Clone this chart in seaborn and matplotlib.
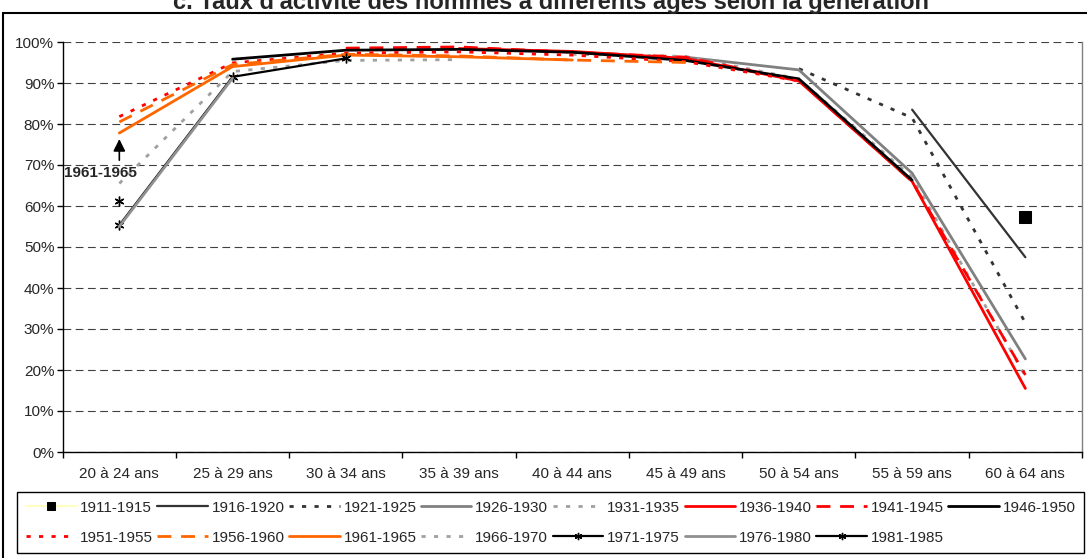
import numpy as np
import pandas as pd
import seaborn as sns
import matplotlib.pyplot as plt
from matplotlib.ticker import PercentFormatter, FixedLocator
from matplotlib.patches import Rectangle

nan = np.nan

# age groups (x axis)
ages = ['20 à 24 ans', '25 à 29 ans', '30 à 34 ans', '35 à 39 ans', '40 à 44 ans',
        '45 à 49 ans', '50 à 54 ans', '55 à 59 ans', '60 à 64 ans']

# activity rate (%) by generation, one value per age group
g1911 = [nan, nan, nan, nan, nan, nan, nan, nan, 57.2]
g1916 = [nan, nan, nan, nan, nan, nan, nan, 83.5, 47.5]
g1921 = [nan, nan, nan, nan, nan, nan, 93.5, 81.5, 31.5]
g1926 = [nan, nan, nan, nan, nan, 96.3, 93.2, 68.0, 22.7]
g1931 = [nan, nan, nan, nan, 97.0, 96.5, 91.0, 67.0, 18.5]
g1936 = [nan, nan, nan, 98.4, 97.7, 96.0, 90.5, 66.0, 15.5]
g1941 = [nan, nan, 98.5, 98.8, 97.5, 96.3, 90.6, 66.0, 18.8]
g1946 = [nan, 95.8, 98.0, 98.2, 97.5, 95.5, 91.0, 66.3, nan]
g1951 = [81.8, 94.9, 97.3, 97.6, 96.8, 95.2, 90.5, nan, nan]
g1956 = [80.5, 94.5, 97.0, 96.6, 95.6, 95.0, nan, nan, nan]
g1961 = [77.8, 94.0, 96.8, 96.4, 95.6, nan, nan, nan, nan]
g1966 = [65.5, 92.8, 95.5, 95.7, nan, nan, nan, nan, nan]
g1971 = [55.3, 91.5, 96.0, nan, nan, nan, nan, nan, nan]
g1976 = [55.0, 91.2, nan, nan, nan, nan, nan, nan, nan]
g1981 = [61.3, nan, nan, nan, nan, nan, nan, nan, nan]

generations = ['1911-1915', '1916-1920', '1921-1925', '1926-1930', '1931-1935',
               '1936-1940', '1941-1945', '1946-1950', '1951-1955', '1956-1960',
               '1961-1965', '1966-1970', '1971-1975', '1976-1980', '1981-1985']
series = [g1911, g1916, g1921, g1926, g1931, g1936, g1941, g1946,
          g1951, g1956, g1961, g1966, g1971, g1976, g1981]

rows = []
for gen, vals in zip(generations, series):
    for i, v in enumerate(vals):
        if not np.isnan(v):
            rows.append((gen, i, v))
df = pd.DataFrame(rows, columns=['generation', 'age', 'taux'])

asterisk = (6, 2, 0)
styles = {
    '1911-1915': dict(color='#FFFFC0', lw=1.5, marker='s', ms=8, mfc='black', mec='black'),
    '1916-1920': dict(color='#333333', lw=1.6),
    '1921-1925': dict(color='#333333', lw=2, ls=(0, (1.5, 3))),
    '1926-1930': dict(color='#808080', lw=2),
    '1931-1935': dict(color='#A0A0A0', lw=2, ls=(0, (1.5, 3))),
    '1936-1940': dict(color='#FF0000', lw=2),
    '1941-1945': dict(color='#FF0000', lw=2, ls=(0, (5, 3.5))),
    '1946-1950': dict(color='black', lw=2),
    '1951-1955': dict(color='#FF0000', lw=2, ls=(0, (1.5, 3))),
    '1956-1960': dict(color='#FF6600', lw=2, ls=(0, (5, 3.5))),
    '1961-1965': dict(color='#FF6600', lw=2),
    '1966-1970': dict(color='#A0A0A0', lw=2, ls=(0, (1.5, 3))),
    '1971-1975': dict(color='black', lw=1.6, marker=asterisk, ms=7, mec='black', mew=1),
    '1976-1980': dict(color='#909090', lw=2),
    '1981-1985': dict(color='black', lw=1.6, marker=asterisk, ms=7, mec='black', mew=1),
}

sns.set_theme(style='white')
plt.rcParams['font.family'] = ['Liberation Sans', 'DejaVu Sans']
fs = 11

fig = plt.figure(figsize=(10.87, 5.58), dpi=100)
W, H = 1087, 558
ax = fig.add_axes([62.7 / W, 1 - 452 / H, (1082 - 62.7) / W, (452 - 42) / H])

for gen in generations:
    sns.lineplot(data=df[df['generation'] == gen], x='age', y='taux', ax=ax,
                 label=gen, legend=False, **styles[gen])

if ax.get_legend() is not None:
    ax.get_legend().remove()

# axes
ax.set_xlim(-0.5, len(ages) - 0.5)
ax.set_ylim(0, 100)
ax.set_xlabel('')
ax.set_ylabel('')
ax.set_yticks(np.arange(0, 101, 10))
ax.yaxis.set_major_formatter(PercentFormatter(100, decimals=0))
ax.xaxis.set_major_locator(FixedLocator(np.arange(-0.5, len(ages), 1.0)))
ax.xaxis.set_minor_locator(FixedLocator(np.arange(len(ages))))
ax.set_xticklabels([''] * (len(ages) + 1))
ax.set_xticklabels(ages, minor=True)
ax.tick_params(axis='x', which='major', direction='out', length=4, width=1, color='black', bottom=True)
ax.tick_params(axis='x', which='minor', length=0, pad=11, labelsize=fs, bottom=True)
ax.tick_params(axis='y', direction='out', length=4, width=1, color='black', pad=2, labelsize=fs, left=True)
ax.yaxis.grid(True, color='#404040', lw=0.8, ls=(0, (7, 4)))
ax.xaxis.grid(False)
for side in ['left', 'bottom']:
    ax.spines[side].set_color('black')
    ax.spines[side].set_linewidth(1)
ax.spines['right'].set_color('#808080')
ax.spines['right'].set_linewidth(1)
ax.spines['top'].set_visible(False)
ax.set_axisbelow(True)

# annotation
ax.text(-0.17, 68, '1961-1965', ha='center', va='center', fontsize=fs, fontweight='bold')
ax.annotate('', xy=(0, 77.0), xytext=(0, 70.5),
            arrowprops=dict(arrowstyle='-|>', color='black', lw=1.2, mutation_scale=18))

# title (partly cut off at the top, as in the source)
fig.text(0.507, 1 - 9 / H, "c. Taux d'activité des hommes à différents âges selon la génération",
         ha='center', va='baseline', fontsize=17, fontweight='bold')

# chart border
fig.patches.append(Rectangle((3 / W, -0.1), 1.2, 1 - 13 / H + 0.1, transform=fig.transFigure,
                             fill=False, lw=1.5, edgecolor='black', clip_on=False))

# legend, row-major order over 8 columns
handles, labels = ax.get_legend_handles_labels()
order = []
for c in range(8):
    order.append(c)
    if c + 8 < len(handles):
        order.append(c + 8)
leg = fig.legend([handles[i] for i in order], [labels[i] for i in order],
                 ncol=8, loc='upper left', mode='expand',
                 bbox_to_anchor=(17 / W, 1 - 557 / H, (1084 - 17) / W, 65 / H),
                 fontsize=fs, frameon=True, fancybox=False, framealpha=1,
                 borderaxespad=0, borderpad=0.56, labelspacing=1.06,
                 handlelength=3.3, handletextpad=0.25, columnspacing=0.5,
                 markerscale=0.75)
leg.get_frame().set_edgecolor('black')
leg.get_frame().set_linewidth(1)

fig.savefig('out.png', dpi=100)
